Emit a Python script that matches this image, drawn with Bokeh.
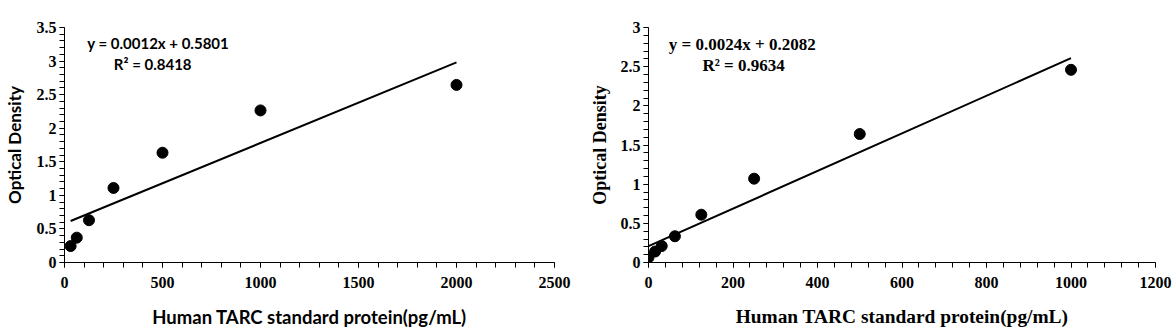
from bokeh.plotting import figure
from bokeh.layouts import row
from bokeh.models import SingleIntervalTicker, Range1d, Label
from bokeh.embed import file_html
from bokeh.resources import INLINE

# ---- data ----
conc_a = [31.25, 62.5, 125, 250, 500, 1000, 2000]
od_a = [0.245, 0.37, 0.63, 1.11, 1.635, 2.265, 2.645]
slope_a, icpt_a = 0.0012, 0.5801
eq_a = "y = 0.0012x + 0.5801"
r2_a = "R\u00b2 = 0.8418"

conc_b = [0, 15.625, 31.25, 62.5, 125, 250, 500, 1000]
od_b = [0.065, 0.14, 0.21, 0.335, 0.61, 1.07, 1.64, 2.46]
slope_b, icpt_b = 0.0024, 0.2082
eq_b = "y = 0.0024x + 0.2082"
r2_b = "R\u00b2 = 0.9634"

x_title = "Human TARC standard protein(pg/mL)"
y_title = "Optical Density"

SERIF = "Liberation Serif"
SANS = "Lato"


def make(conc, od, slope, icpt, eq, r2, xmax, xint, ymax, title_font, eq_font,
         width, bl, br, bt, bb, eq_pos, r2_pos, eq_size, xt_size, yt_size, y_std, x_std):
    p = figure(width=width, height=333, output_backend="svg", toolbar_location=None,
               x_range=Range1d(0, xmax), y_range=Range1d(0, ymax),
               min_border_left=bl, min_border_right=br, min_border_top=bt,
               min_border_bottom=bb)
    p.outline_line_color = None
    p.xgrid.visible = False
    p.ygrid.visible = False
    p.xaxis.ticker = SingleIntervalTicker(interval=xint, num_minor_ticks=5)
    p.yaxis.ticker = SingleIntervalTicker(interval=0.5, num_minor_ticks=5)
    for ax in (p.xaxis[0], p.yaxis[0]):
        ax.axis_line_color = "black"
        ax.major_tick_line_color = "black"
        ax.minor_tick_line_color = "black"
        ax.major_tick_in = 0
        ax.minor_tick_in = 0
        ax.major_tick_out = 5
        ax.minor_tick_out = 5
        ax.major_label_text_font = SERIF
        ax.major_label_text_font_style = "bold"
        ax.major_label_text_font_size = "16px"
        ax.major_label_text_color = "black"
        ax.axis_label_text_font = title_font
        ax.axis_label_text_font_style = "bold"
        ax.axis_label_text_color = "black"
    p.xaxis.axis_label_text_font_size = xt_size
    p.yaxis.axis_label_text_font_size = yt_size
    p.xaxis.axis_label = x_title
    p.yaxis.axis_label = y_title
    p.xaxis.major_label_standoff = 9
    p.yaxis.major_label_standoff = 3
    p.xaxis.axis_label_standoff = x_std
    p.yaxis.axis_label_standoff = y_std

    p.line([conc[0], conc[-1]], [slope * conc[0] + icpt, slope * conc[-1] + icpt],
           line_color="black", line_width=2)
    p.scatter(conc, od, size=11, fill_color="black", line_color="black")

    p.add_layout(Label(x=eq_pos[0], y=eq_pos[1], text=eq, text_align="center",
                       text_baseline="middle", text_font=eq_font, text_font_style="bold",
                       text_font_size=eq_size, text_color="black"))
    p.add_layout(Label(x=r2_pos[0], y=r2_pos[1], text=r2, text_align="center",
                       text_baseline="middle", text_font=eq_font, text_font_style="bold",
                       text_font_size=eq_size, text_color="black"))
    return p


pa = make(conc_a, od_a, slope_a, icpt_a, eq_a, r2_a, 2500, 500, 3.5, SANS, SANS,
          586, 64, 32, 24, 71, (478, 3.27), (450, 2.96), "15px", "18.5px", "17px", 9, 15)
pb = make(conc_b, od_b, slope_b, icpt_b, eq_b, r2_b, 1200, 200, 3, SERIF, SERIF,
          589, 62, 20, 27, 71, (222, 2.78), (225, 2.52), "17px", "19.4px", "18px", 8, 15)

layout = row(pa, pb, spacing=0)
open("out.html", "w").write(file_html(layout, INLINE))
